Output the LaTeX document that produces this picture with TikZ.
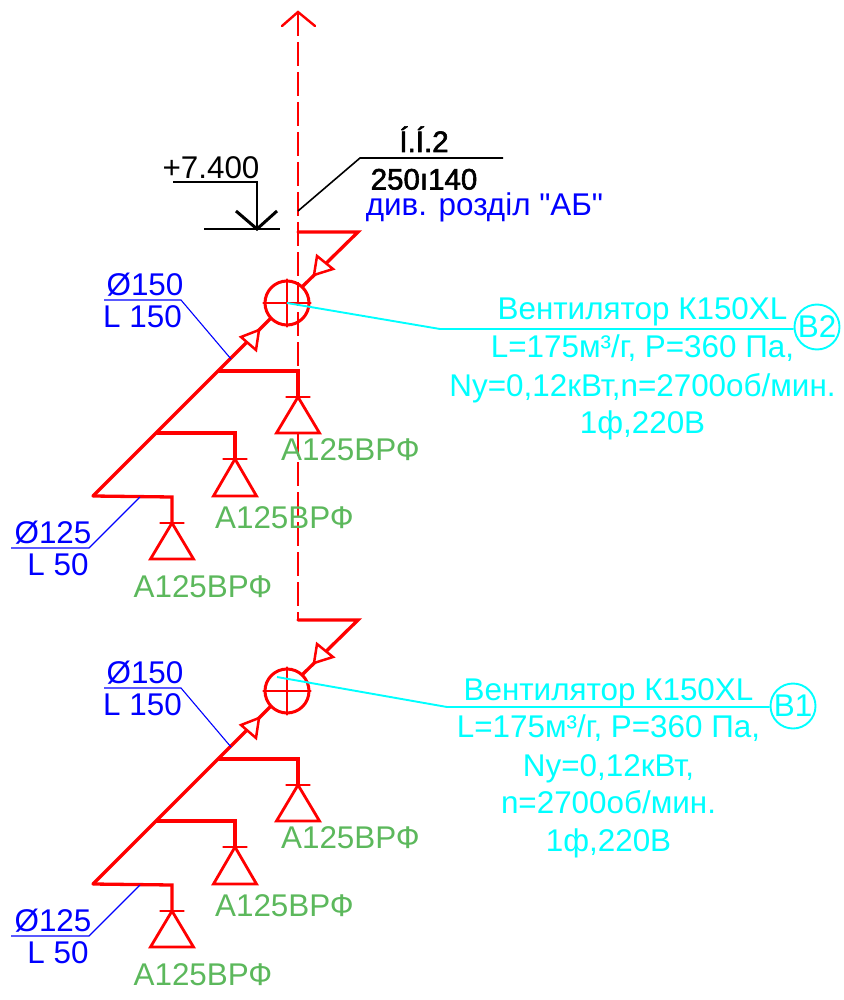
\documentclass[tikz,border=0pt]{standalone}
\usepackage{fontspec}
\setmainfont{Liberation Sans}
\newfontfamily\fakebold[FakeBold=2]{Liberation Sans}
\newfontfamily\plainquote{Liberation Sans}
\definecolor{cadblue}{RGB}{0,0,255}
\definecolor{cadcyan}{RGB}{0,255,255}
\definecolor{cadgreen}{RGB}{92,184,92}
\definecolor{cadred}{RGB}{255,0,0}
\newcommand{\cadfont}{\fontsize{31.4}{31.4}\selectfont}
\newcommand{\cadfontblack}{\fontsize{29.5}{29.5}\selectfont}
\tikzset{
  x=1pt,y=-1pt,
  duct/.style={draw=cadred,line width=3.3pt,line cap=round,line join=miter},
  axisline/.style={draw=cadred,line width=1.1pt,dash pattern=on 24pt off 6pt},
  fanbody/.style={draw=cadred,line width=3pt,circle,minimum size=44pt,inner sep=0pt},
  flowtip/.style={draw=cadred,fill=white,line width=2.5pt,line join=miter},
  bellmouth/.style={draw=cadred,fill=white,line width=2.8pt,line join=miter},
  blueline/.style={draw=cadblue,line width=1.1pt},
  cyanline/.style={draw=cadcyan,line width=1.9pt},
  blacklight/.style={draw=black,line width=1.6pt},
  blackheavy/.style={draw=black,line width=3pt},
  txt/.style={inner sep=0pt,outer sep=0pt,font=\cadfont,anchor=base},
  bluetxt/.style={txt,text=cadblue},
  cyantxt/.style={txt,text=cadcyan},
  greentxt/.style={txt,text=cadgreen},
  blacktxt/.style={txt,text=black},
  tagbody/.style={draw=cadcyan,line width=1.9pt,circle,minimum size=45pt,inner sep=0pt,text=cadcyan,font=\cadfont},
}
\newcommand{\grille}[7]{% name, stub x, stub top y, tick y, tick half, base y, base half
  \coordinate (#1top) at (#2,#3);
  \coordinate (#1tick) at (#2,#4);
  \coordinate (#1tl) at (#2-#5,#4);
  \coordinate (#1tr) at (#2+#5,#4);
  \coordinate (#1bl) at (#2-#7,#6);
  \coordinate (#1br) at (#2+#7,#6);
  \draw[bellmouth] (#1tick) -- (#1bl) -- (#1br) -- cycle;
  \draw[duct,line width=2.8pt] (#1tl) -- (#1tr);
}
\newcommand{\ductset}[1]{%
  % #1 is a suffix for the names
  \coordinate (bk#1) at (298,232);
  \coordinate (bc#1) at (358,232);
  \node[fanbody] (fan#1) at (287,303) {};
  \draw[duct] (bk#1) -- (bc#1) -- (303,286);
  \draw[flowtip] (317,256) -- (333,269) -- (314,275) -- cycle;
  \draw[duct,line width=2.6pt] (fan#1.west) -- (fan#1.east);
  \draw[duct,line width=2.6pt] (fan#1.north) -- (fan#1.south);
  \coordinate (foot#1) at (93,496);
  \draw[duct] (270,319) -- (foot#1);
  \draw[flowtip] (241,337) -- (256,350) -- (259,330) -- cycle;
  \grille{ga#1}{298}{371}{397}{11.5}{433}{21.5}
  \grille{gb#1}{235}{433}{459}{11.5}{496}{21.5}
  \grille{gc#1}{172}{497}{523}{11.5}{559}{21.5}
  \draw[duct,line join=miter] (219,371) -- (ga#1top) -- (ga#1tick);
  \draw[duct,line join=miter] (157,433) -- (gb#1top) -- (gb#1tick);
  \draw[duct,line join=miter] (foot#1) -- (gc#1top) -- (gc#1tick);
  \node[bluetxt] (da#1) at (145,295) {Ø150};
  \node[bluetxt] (db#1) at (142.5,327) {L 150};
  \coordinate (ua#1) at (104,300);
  \coordinate (ub#1) at (181,300);
  \coordinate (uc#1) at (231,359);
  \draw[blueline] (ua#1) -- (ub#1) -- (uc#1);
  \node[bluetxt] (dc#1) at (53,543) {Ø125};
  \node[bluetxt] (dd#1) at (58,575) {L 50};
  \coordinate (ud#1) at (11,548);
  \coordinate (ue#1) at (89,548);
  \coordinate (uf#1) at (140,497);
  \draw[blueline] (ud#1) -- (ue#1) -- (uf#1);
  \node[greentxt] (la#1) at (350.5,460) {А125ВРФ};
  \node[greentxt] (lb#1) at (284.5,528) {А125ВРФ};
  \node[greentxt] (lc#1) at (203,597) {А125ВРФ};
}
\begin{document}
\begin{tikzpicture}
\useasboundingbox (0,0) rectangle (843,1000);
% axis
\coordinate (axtop) at (298,12);
\coordinate (axbot) at (298,620);
\coordinate (axl) at (282,26);
\coordinate (axr) at (315,26);
\draw[axisline] (axtop) -- (axbot);
\draw[duct,line width=2.4pt] (axl) -- (axtop) -- (axr);
% level mark
\node[blacktxt] (level) at (211,179) {+7.400};
\coordinate (lva) at (173,182);
\coordinate (lvb) at (257,182);
\coordinate (lvc) at (257,229);
\coordinate (lvd) at (204,229);
\coordinate (lve) at (280,229);
\coordinate (lvf) at (236,211);
\coordinate (lvg) at (277,211);
\draw[blacklight] (lva) -- (lvb) -- (lvc);
\draw[blacklight] (lvd) -- (lve);
\draw[blackheavy] (lvf) -- (lvc) -- (lvg);
% opening leader
\coordinate (opa) at (298,211);
\coordinate (opb) at (360,158);
\coordinate (opc) at (503,158);
\draw[blacklight] (opa) -- (opb) -- (opc);
\node[txt,font=\cadfontblack] (opn) at (424,152) {\fakebold Í.Í.2};
\node[txt,font=\cadfontblack] (ops) at (424,189.5) {\fakebold 250ı140};
\node[bluetxt] (opd) at (484.5,216) {\plainquote див. розділ "АБ"};
% upper set
\begin{scope}
\ductset{u}
\node[tagbody] (tagu) at (817,327) {В2};
\coordinate (cua) at (287,303);
\coordinate (cub) at (440,329);
\draw[cyanline] (cua) -- (cub) -- (tagu.west |- cub);
\node[cyantxt] (ua1) at (642.5,319) {Вентилятор К150XL};
\node[cyantxt] (ua2) at (642.5,357) {L=175м³/г, P=360 Па,};
\node[cyantxt] (ua3) at (642.5,396) {Ny=0,12кВт,n=2700об/мин.};
\node[cyantxt] (ua4) at (642.5,433) {1ф,220В};
\end{scope}
% lower set
\begin{scope}[yshift=-388pt]
\ductset{l}
\end{scope}
\node[tagbody] (tagl) at (793,706) {В1};
\coordinate (cla) at (277,677);
\coordinate (clb) at (447,707);
\draw[cyanline] (cla) -- (clb) -- (tagl.west |- clb);
\node[cyantxt] (la1) at (608.5,700) {Вентилятор К150XL};
\node[cyantxt] (la2) at (608.5,737) {L=175м³/г, P=360 Па,};
\node[cyantxt] (la3) at (608.5,776) {Ny=0,12кВт,};
\node[cyantxt] (la4) at (608.5,813) {n=2700об/мин.};
\node[cyantxt] (la5) at (608.5,851) {1ф,220В};
\end{tikzpicture}
\end{document}
